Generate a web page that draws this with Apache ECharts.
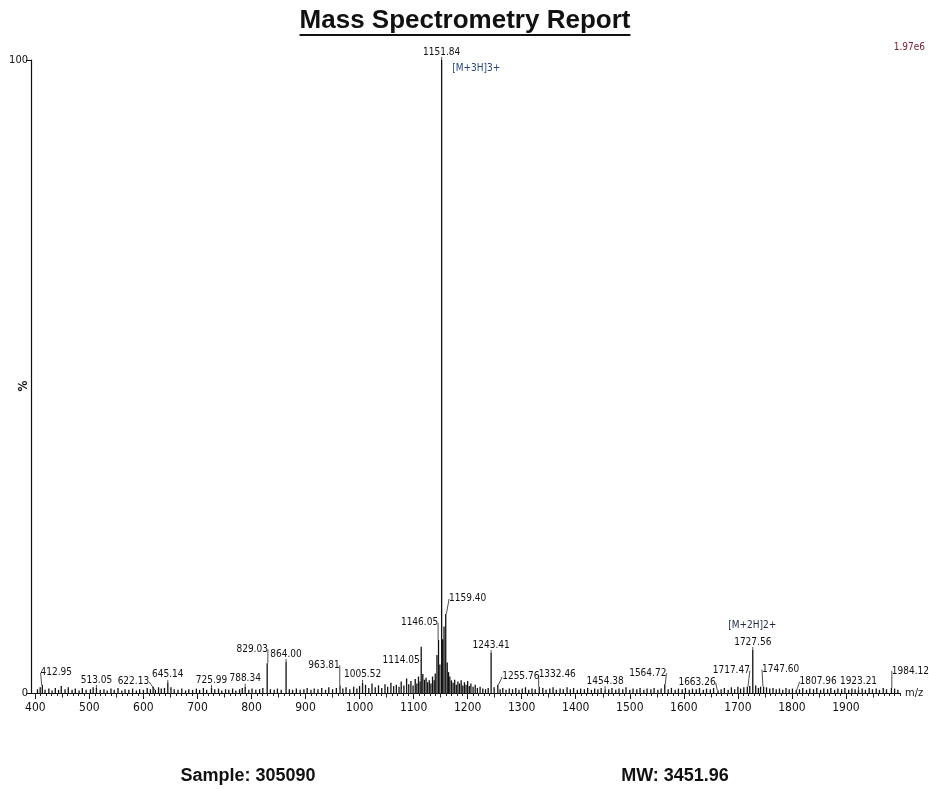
<!DOCTYPE html>
<html><head><meta charset="utf-8">
<script src="https://cdn.jsdelivr.net/npm/echarts@6/dist/echarts.min.js"></script>
<style>html,body{margin:0;padding:0;background:#fff}#c{width:929px;height:789px}</style>
</head><body><div id="c"></div>
<script>
// ---------------- data ----------------
const titleText = 'Mass Spectrometry Report';
const sampleText = 'Sample: 305090';
const mwText = 'MW: 3451.96';
const scaleText = '1.97e6';
const yAxisName = '%';
const xAxisName = 'm/z';

const xTickLabels = [400, 500, 600, 700, 800, 900, 1000, 1100, 1200, 1300, 1400, 1500, 1600, 1700, 1800, 1900];
const xMidTicks = [450, 550, 650, 750, 850, 950, 1050, 1150, 1250, 1350, 1450, 1550, 1650, 1750, 1850, 1950];
const yTickLabels = [0, 100];

// labelled peaks (m/z, relative intensity %)
const labeledMz = [412.95, 513.05, 622.13, 645.14, 725.99, 788.34, 829.03, 864.00, 963.81, 1005.52,
  1114.05, 1146.05, 1151.84, 1159.40, 1243.41, 1255.76, 1332.46, 1454.38, 1564.72, 1663.26,
  1717.47, 1727.56, 1747.60, 1807.96, 1923.21, 1984.12];
const labeledIntensity = [1.3, 0.8, 0.5, 1.6, 0.8, 1.0, 4.7, 4.9, 1.2, 1.6,
  7.3, 8.4, 100, 12.5, 6.3, 1.3, 1.0, 0.6, 1.4, 0.4,
  1.0, 6.8, 1.0, 0.5, 0.5, 0.8];

// unlabelled peaks (m/z, relative intensity %)
const noiseMz = [404, 409, 418, 425, 431, 437, 443, 448, 455, 461, 468, 474, 481, 487, 494, 502, 507, 520, 527, 533,
  540, 546, 553, 560, 566, 573, 580, 587, 593, 600, 607, 613, 618, 628, 633, 639, 651, 657, 664, 671,
  678, 684, 691, 698, 704, 711, 717, 732, 739, 745, 752, 758, 765, 771, 778, 783, 795, 801, 808, 815,
  821, 835, 842, 848, 855, 870, 876, 883, 890, 897, 903, 910, 916, 923, 930, 937, 943, 950, 957, 969,
  975, 982, 989, 995, 1000, 1011, 1017, 1023, 1029, 1035, 1041, 1047, 1052, 1058, 1063, 1068, 1073, 1077, 1082, 1087,
  1091, 1095, 1099, 1103, 1106, 1109, 1112, 1117, 1120, 1123, 1126, 1129, 1132, 1135, 1138, 1140, 1143.2, 1148.6, 1153.8, 1156.3,
  1162.2, 1164.6, 1167, 1170, 1173, 1176, 1179, 1182, 1185, 1188, 1191, 1194, 1197, 1200, 1203, 1206, 1210, 1214, 1218, 1223,
  1228, 1233, 1238, 1249, 1260, 1265, 1271, 1277, 1283, 1289, 1295, 1301, 1307, 1313, 1319, 1325, 1339, 1345, 1352, 1358,
  1364, 1371, 1377, 1384, 1390, 1396, 1403, 1409, 1416, 1422, 1429, 1435, 1441, 1447, 1461, 1467, 1474, 1480, 1487, 1493,
  1500, 1506, 1513, 1519, 1526, 1532, 1539, 1545, 1552, 1558, 1571, 1577, 1584, 1590, 1597, 1603, 1610, 1616, 1623, 1629,
  1636, 1642, 1649, 1655, 1669, 1675, 1682, 1688, 1694, 1700, 1705, 1711, 1722, 1733, 1738, 1742, 1753, 1759, 1765, 1771,
  1777, 1783, 1789, 1795, 1801, 1814, 1820, 1827, 1833, 1840, 1846, 1853, 1859, 1866, 1872, 1879, 1885, 1892, 1898, 1905,
  1911, 1917, 1930, 1936, 1943, 1949, 1956, 1962, 1969, 1975, 1990, 1996];
const noiseIntensity = [0.6, 0.9, 0.5, 0.7, 0.4, 0.8, 0.5, 1.1, 0.6, 0.9, 0.5, 0.7, 0.4, 0.8, 0.5, 0.6, 0.9, 0.5, 0.6, 0.4,
  0.7, 0.5, 0.8, 0.4, 0.6, 0.5, 0.7, 0.4, 0.6, 0.5, 0.8, 0.6, 1.0, 0.9, 0.7, 0.8, 0.9, 0.6, 0.5, 0.7,
  0.4, 0.6, 0.5, 0.7, 0.5, 0.8, 0.5, 0.6, 0.7, 0.4, 0.6, 0.5, 0.7, 0.4, 0.6, 0.8, 0.5, 0.7, 0.5, 0.6,
  0.8, 0.6, 0.5, 0.7, 0.5, 0.6, 0.5, 0.7, 0.5, 0.6, 0.8, 0.5, 0.7, 0.6, 0.8, 0.5, 0.9, 0.6, 0.8, 0.7,
  0.9, 0.6, 1.0, 0.7, 1.1, 1.3, 0.8, 1.5, 0.9, 1.2, 0.8, 1.4, 1.0, 1.6, 1.1, 1.3, 1.0, 1.8, 1.2, 2.3,
  1.4, 1.9, 1.2, 2.2, 1.5, 2.6, 1.8, 3.0, 2.1, 2.4, 1.7, 2.0, 1.5, 2.6, 2.0, 3.1, 6.0, 4.5, 8.5, 10.5,
  4.8, 3.3, 2.6, 2.0, 1.6, 2.1, 1.3, 1.8, 1.5, 2.0, 1.2, 1.7, 1.3, 1.9, 1.1, 1.5, 1.0, 1.3, 0.8, 1.0,
  0.7, 0.6, 0.8, 0.9, 0.6, 0.8, 0.5, 0.7, 0.6, 0.8, 0.5, 0.7, 0.9, 0.5, 0.7, 0.6, 0.8, 0.5, 0.7, 0.9,
  0.5, 0.7, 0.6, 0.9, 0.6, 0.8, 0.5, 0.7, 0.6, 0.8, 0.5, 0.7, 0.6, 0.8, 0.6, 0.8, 0.5, 0.7, 0.6, 0.9,
  0.5, 0.7, 0.6, 0.8, 0.5, 0.7, 0.6, 0.8, 0.5, 0.7, 0.6, 0.8, 0.5, 0.7, 0.6, 0.8, 0.5, 0.7, 0.6, 0.8,
  0.5, 0.7, 0.6, 0.8, 0.6, 0.8, 0.5, 0.9, 0.6, 1.0, 0.7, 0.9, 1.1, 1.2, 0.8, 1.0, 0.9, 0.7, 0.8, 0.6,
  0.7, 0.5, 0.8, 0.6, 0.7, 0.6, 0.8, 0.5, 0.7, 0.6, 0.8, 0.5, 0.7, 0.6, 0.8, 0.5, 0.7, 0.6, 0.8, 0.5,
  0.7, 0.6, 0.7, 0.5, 0.8, 0.6, 0.7, 0.5, 0.8, 0.6, 0.7, 0.5];

// ion annotations
const annotMz = [1151.84, 1727.56];
const annotText = ['[M+3H]3+', '[M+2H]2+'];

// ---------------- styling (label placement, px) ----------------
const labelShift = {
  '412.95': [14, -4], '622.13': [-22, 0], '829.03': [-15, -6], '963.81': [-16, -12],
  '1114.05': [-20, 22], '1146.05': [-19, -9], '1159.40': [22, -7], '1255.76': [23, 0],
  '1332.46': [18, -4], '1564.72': [-17, -3], '1663.26': [-21, 0], '1717.47': [-16, -8],
  '1747.60': [17, -9], '1807.96': [22, 0], '1984.12': [19, -9]
};
const annotLabelStyle = [
  { position: [11, 9], align: 'left', color: '#25457c' },
  { position: [0, -24], align: 'center', color: '#1e2a44' }
];

const NARROW = "'Liberation Sans Narrow', 'DejaVu Sans Condensed', 'Liberation Sans', sans-serif";
const SANS = "'Liberation Sans', Arial, sans-serif";

const seriesData = [];
const shiftByIndex = {};
noiseMz.forEach((m, i) => seriesData.push({ value: [m, noiseIntensity[i]] }));
labeledMz.forEach((m, i) => {
  const key = m.toFixed(2);
  if (labelShift[key]) shiftByIndex[seriesData.length] = labelShift[key];
  seriesData.push({ value: [m, labeledIntensity[i]], label: { show: true, formatter: key } });
});

const tens = [];
for (let v = 400; v <= 2000; v += 10) tens.push(v);

// measure title for underline
const TITLE_FONT = "bold 26px 'Liberation Sans', Arial, sans-serif";
const cv = document.createElement('canvas').getContext('2d');
cv.font = TITLE_FONT;
const titleW = cv.measureText(titleText).width;
const titleCx = 465;

const chart = echarts.init(document.getElementById('c'), null, { renderer: 'canvas' });
const axisCommon = { type: 'value', min: 392, max: 2000, position: 'bottom', offset: 0, splitLine: { show: false } };

chart.setOption({
  animation: false,
  backgroundColor: '#fff',
  grid: { left: 31, right: 29, top: 60, bottom: 96, containLabel: false, outerBoundsMode: 'none' },
  xAxis: [
    Object.assign({}, axisCommon, {
      name: xAxisName, nameLocation: 'end', nameGap: 5,
      nameTextStyle: { fontFamily: NARROW, fontSize: 11, color: '#111' },
      axisLine: { show: true, onZero: false, lineStyle: { color: '#111', width: 1.2 } },
      axisTick: { show: true, customValues: xTickLabels, length: 6, lineStyle: { color: '#111', width: 1 } },
      axisLabel: { show: true, customValues: xTickLabels, formatter: v => String(v),
        fontFamily: NARROW, fontSize: 12, color: '#111', margin: 9 }
    }),
    Object.assign({}, axisCommon, {
      axisLine: { show: false, onZero: false },
      axisTick: { show: true, customValues: tens, length: 3, lineStyle: { color: '#222', width: 1 } },
      axisLabel: { show: false }
    }),
    Object.assign({}, axisCommon, {
      axisLine: { show: false, onZero: false },
      axisTick: { show: true, customValues: xMidTicks, length: 4.5, lineStyle: { color: '#222', width: 1 } },
      axisLabel: { show: false }
    })
  ],
  yAxis: {
    type: 'value', min: 0, max: 100,
    axisLine: { show: true, lineStyle: { color: '#111', width: 1.2 } },
    axisTick: { show: true, customValues: yTickLabels, length: 5, lineStyle: { color: '#111' } },
    axisLabel: { show: true, customValues: yTickLabels, formatter: v => String(v),
      fontFamily: NARROW, fontSize: 11, color: '#111', margin: 3 },
    splitLine: { show: false }
  },
  series: [{
    type: 'bar',
    xAxisIndex: 0,
    barWidth: 1.3,
    itemStyle: { color: '#111' },
    label: { show: false, position: 'top', distance: 3, fontFamily: NARROW, fontSize: 10, color: '#111' },
    labelLine: { show: true, lineStyle: { color: '#222', width: 0.8 } },
    labelLayout: function (p) {
      const s = shiftByIndex[p.dataIndex];
      return s ? { dx: s[0], dy: s[1] } : {};
    },
    data: seriesData,
    markPoint: {
      symbol: 'circle', symbolSize: 1, silent: true,
      itemStyle: { color: 'rgba(0,0,0,0)' },
      data: annotMz.map((m, i) => ({
        coord: [m, labeledIntensity[labeledMz.indexOf(m)]],
        label: Object.assign({ show: true, formatter: annotText[i], verticalAlign: 'middle',
          fontFamily: NARROW, fontSize: 10 }, annotLabelStyle[i])
      }))
    }
  }],
  graphic: [
    { type: 'text', x: titleCx, y: 21, style: { text: titleText, font: TITLE_FONT,
      fill: '#111', align: 'center', verticalAlign: 'middle' } },
    { type: 'line', shape: { x1: titleCx - titleW / 2, y1: 35, x2: titleCx + titleW / 2, y2: 35 },
      style: { stroke: '#111', lineWidth: 2 } },
    { type: 'text', x: 24, y: 386, rotation: Math.PI / 2, style: { text: yAxisName, font: "bold 12px " + NARROW,
      fill: '#111', align: 'center', verticalAlign: 'middle' } },
    { type: 'text', x: 925, y: 47, style: { text: scaleText, font: "10px " + NARROW, fill: '#7b2130',
      align: 'right', verticalAlign: 'middle' } },
    { type: 'text', x: 248, y: 776, style: { text: sampleText, font: "bold 18px " + SANS, fill: '#111',
      align: 'center', verticalAlign: 'middle' } },
    { type: 'text', x: 675, y: 776, style: { text: mwText, font: "bold 18px " + SANS, fill: '#111',
      align: 'center', verticalAlign: 'middle' } }
  ]
});
</script></body></html>
